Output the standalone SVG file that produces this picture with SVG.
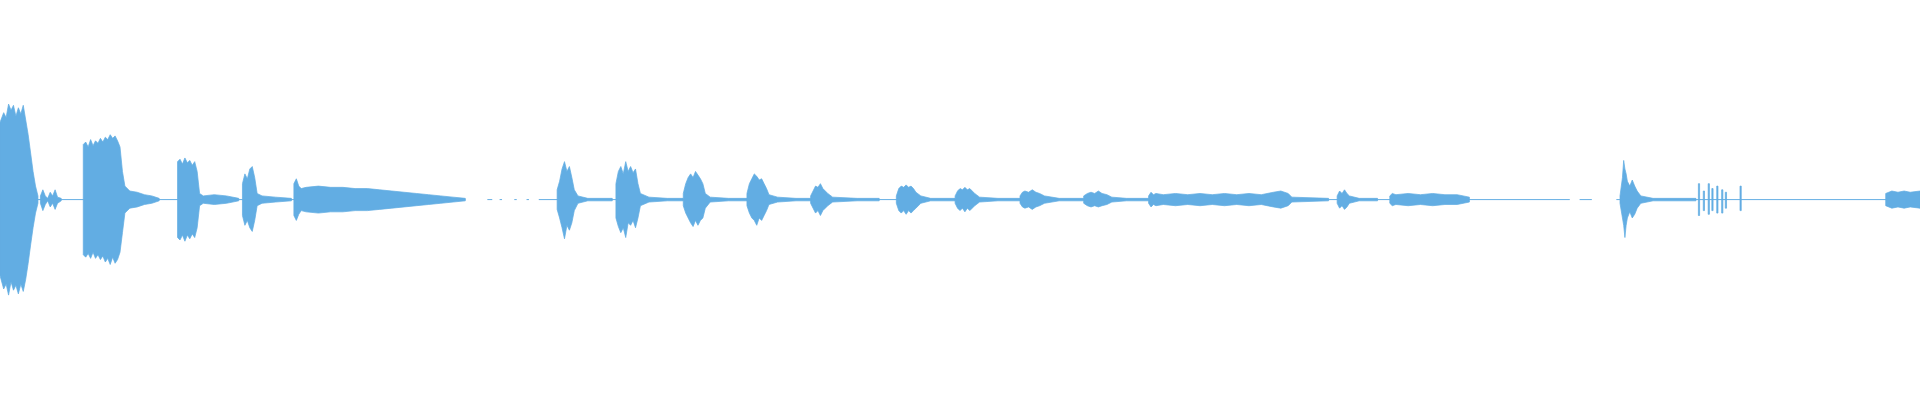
<svg xmlns="http://www.w3.org/2000/svg" width="1920" height="400" viewBox="0 0 1920 400">
<style>.w{fill:#62ade3;stroke:#62ade3;stroke-width:0.6}.c{stroke:#62ade3;stroke-width:0.8;fill:none}</style>
<rect width="1920" height="400" fill="#fff"/>
<g transform="scale(1.2245)">
<g id="centerline">
<path class="c" d="M0 163H380M398 163H402M408 163H410M420 163H422M430 163H432M440 163H1282M1290 163H1300M1320 163H1568"/>
</g>
<g id="bursts">
<path class="w" d="M0 100L3 92L5 96L7 85L9 90L11 86L13 95L15 88L17 93L19 86L21 98L23 110L25 125L27 140L29 152L31 160L31 166L29 174L27 186L25 200L23 215L21 228L19 238L17 232L15 240L13 233L11 237L9 230L7 241L5 232L3 236L0 225Z"/>
<path class="w" d="M33 160L35 155L37 160L39 162L41 157L43 160L45 155L47 161L50 162L50 164L47 166L45 171L43 166L41 169L39 164L37 167L35 172L33 166Z"/>
<path class="w" d="M68 118L70 116L72 120L74 114L76 119L78 115L80 117L82 113L84 116L86 112L88 114L90 110L92 113L94 111L96 115L98 120L100 140L102 152L106 156L112 157L118 159L124 160L130 162L130 164L124 166L118 167L112 169L106 170L102 174L100 190L98 206L96 212L94 215L92 210L90 216L88 211L86 214L84 209L82 212L80 208L78 211L76 206L74 211L72 207L70 210L68 208Z"/>
<path class="w" d="M145 132L147 130L149 134L151 129L153 133L155 131L157 135L159 132L161 140L163 158L166 160L175 159L185 160L195 162L195 164L185 166L175 167L166 166L163 168L161 186L159 194L157 191L155 195L153 192L151 197L149 192L147 196L145 194Z"/>
<path class="w" d="M198 150L200 142L202 146L204 138L206 136L208 145L210 158L214 160L225 161L238 162L238 164L225 165L214 166L210 168L208 180L206 189L204 186L202 180L200 184L198 176Z"/>
<path class="w" d="M240 150L242 146L244 152L246 154L250 153L260 152L270 153L280 153L290 154L300 154L310 155L320 156L330 157L340 158L350 159L360 160L370 161L380 162L380 164L370 165L360 166L350 167L340 168L330 169L320 170L310 171L300 172L290 172L280 173L270 173L260 174L250 173L246 172L244 175L242 180L240 176Z"/>
<path class="w" d="M455 155L457 148L459 138L461 132L463 140L465 136L467 145L469 155L472 160L480 162L490 162L500 162L500 164L490 164L480 164L472 166L469 172L467 182L465 188L463 184L461 195L459 186L457 178L455 171Z"/>
<path class="w" d="M503 150L505 140L507 136L509 142L511 132L513 140L515 136L517 141L519 138L521 150L523 158L530 161L545 162L558 162L558 164L545 164L530 165L523 168L521 178L519 186L517 180L515 184L513 182L511 194L509 186L507 190L505 185L503 178Z"/>
<path class="w" d="M558 158L560 150L562 145L564 142L566 145L568 140L570 143L572 146L574 150L576 158L580 161L595 162L610 162L610 164L595 164L580 165L576 170L574 178L572 180L570 184L568 180L566 185L564 182L562 178L560 174L558 168Z"/>
<path class="w" d="M610 158L612 150L614 146L616 142L618 144L620 147L622 146L624 150L626 154L628 159L635 161L650 162L662 162L662 164L650 164L635 165L628 167L626 172L624 176L622 180L620 178L618 184L616 180L614 178L612 174L610 168Z"/>
<path class="w" d="M662 160L664 156L666 152L668 153L670 150L672 154L674 156L676 158L680 161L700 162L718 162L718 164L700 164L680 165L676 168L674 170L672 172L670 176L668 172L666 174L664 170L662 166Z"/>
<path class="w" d="M732 160L734 154L736 152L738 153L740 151L742 153L744 152L746 154L748 157L752 160L760 162L780 162L780 164L760 164L752 166L748 170L746 172L744 174L742 172L740 175L738 172L736 174L734 172L732 166Z"/>
<path class="w" d="M780 160L782 156L784 154L786 155L788 153L790 155L792 154L794 156L796 158L800 161L815 162L833 162L833 164L815 164L800 165L796 168L794 170L792 172L790 170L788 173L786 170L784 172L782 170L780 166Z"/>
<path class="w" d="M833 160L835 157L837 156L840 157L843 155L846 157L849 158L853 160L865 162L885 162L885 164L865 164L853 166L849 168L846 169L843 171L840 169L837 170L835 169L833 166Z"/>
<path class="w" d="M885 160L888 158L891 157L894 158L897 156L900 158L904 159L908 161L920 162L938 162L938 164L920 164L908 165L904 167L900 168L897 169L894 168L891 169L888 168L885 166Z"/>
<path class="w" d="M938 160L940 157L942 159L944 158L950 159L960 158L970 159L980 158L990 159L1000 158L1010 159L1020 158L1030 159L1040 157L1046 156L1052 158L1055 161L1085 162L1085 164L1055 165L1052 168L1046 170L1040 169L1030 167L1020 168L1010 167L1000 168L990 167L980 168L970 167L960 168L950 167L944 168L942 167L940 169L938 166Z"/>
<path class="w" d="M1092 160L1094 156L1096 158L1098 155L1100 158L1102 160L1110 162L1125 162L1125 164L1110 164L1102 166L1100 169L1098 171L1096 168L1094 170L1092 166Z"/>
<path class="w" d="M1135 160L1137 158L1140 159L1150 158L1160 159L1170 158L1180 159L1190 159L1200 161L1200 165L1190 167L1180 167L1170 168L1160 167L1150 168L1140 167L1137 168L1135 166Z"/>
<path class="w" d="M1323 160L1325 145L1326 131L1327 138L1328 142L1329 148L1331 152L1333 147L1335 152L1337 156L1340 160L1350 162L1385 162L1385 164L1350 164L1340 166L1337 170L1335 175L1333 178L1331 173L1329 178L1328 184L1327 194L1326 184L1325 178L1323 166Z"/>
<path class="w" d="M1387 150L1388 150L1388 176L1387 176ZM1391 156L1392 156L1392 172L1391 172ZM1395 150L1396 150L1396 175L1395 175ZM1398 154L1399 154L1399 172L1398 172ZM1402 152L1403 152L1403 174L1402 174ZM1406 155L1407 155L1407 174L1406 174ZM1409 157L1410 157L1410 170L1409 170ZM1421 152L1422 152L1422 172L1421 172Z"/>
<path class="w" d="M1540 158L1545 156L1550 157L1555 156L1560 157L1568 156L1568 170L1560 169L1555 170L1550 169L1545 170L1540 168Z"/>
</g>
</g>
</svg>
